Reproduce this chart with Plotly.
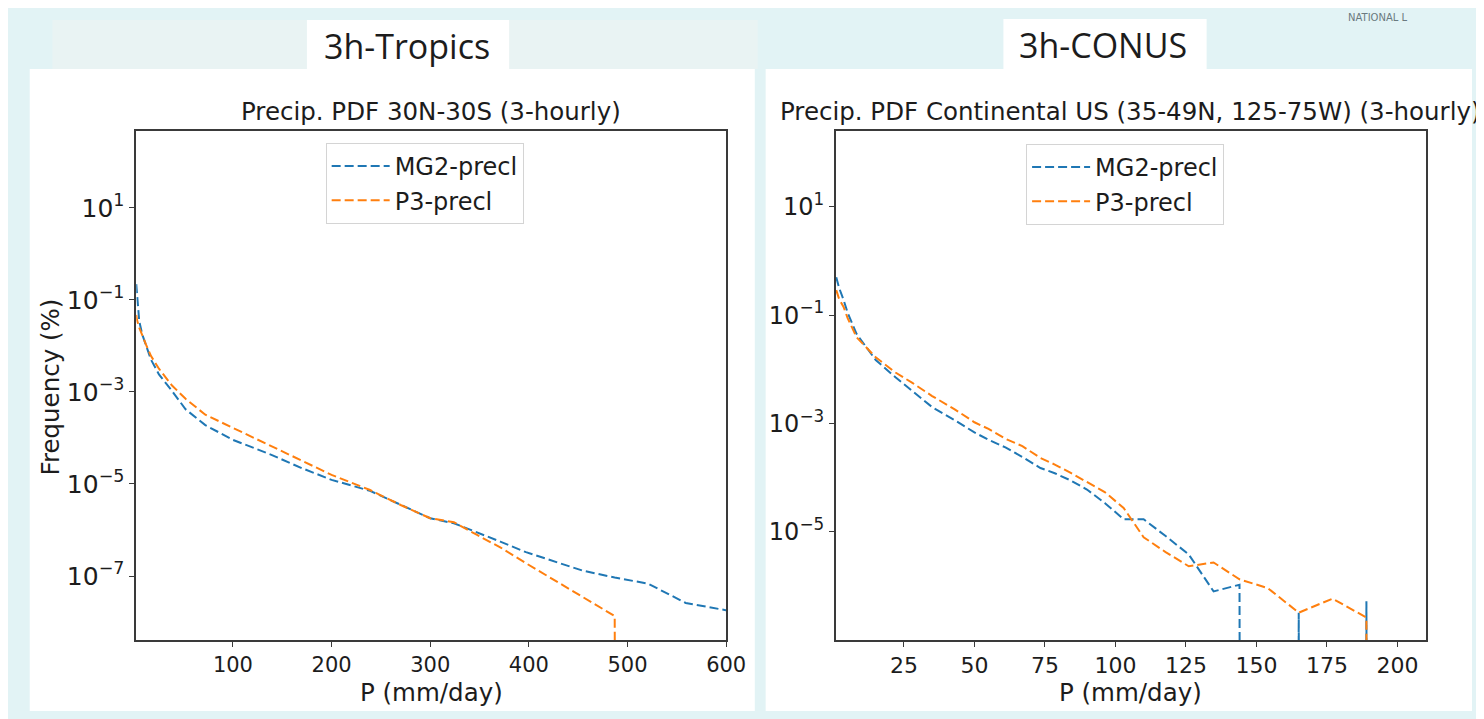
import plotly.graph_objects as go

W, H = 1484, 719

# ---------------- data ----------------
# Tropics 30N-30S, 3-hourly precipitation PDF
tropics_p = [2, 3, 5, 8, 12, 17, 25, 38, 52, 72, 100, 139, 170, 200, 239, 270,
             300, 324, 347, 371, 397, 425, 455, 487, 521, 559, 598, 640]
tropics_mg2 = [2.2e-1, 1.0e-1, 3.5e-2, 1.8e-2, 1.0e-2, 5.0e-3, 2.4e-3, 1.07e-3,
               4.2e-4, 1.9e-4, 9.1e-5, 4.3e-5, 2.2e-5, 1.23e-5, 7.1e-6, 3.5e-6,
               1.8e-6, 1.4e-6, 9.1e-7, 5.6e-7, 3.3e-7, 2.1e-7, 1.3e-7, 9.3e-8,
               6.8e-8, 2.6e-8, 1.8e-8, 1.26e-8]
tropics_p3 = [4.7e-2, 3.5e-2, 2.5e-2, 1.66e-2, 1.05e-2, 6.0e-3, 3.2e-3, 1.4e-3,
              7.1e-4, 3.2e-4, 1.66e-4, 6.8e-5, 3.2e-5, 1.58e-5, 7.4e-6, 3.5e-6,
              1.8e-6, 1.48e-6, 7.9e-7, 4.2e-7, 1.9e-7, 8.3e-8, 3.5e-8, 1.35e-8,
              0.0, 0.0, 0.0, 0.0]

# Continental US (35-49N, 125-75W), 3-hourly precipitation PDF
conus_p = [1, 2, 3.6, 5, 8.2, 12, 15, 22, 28, 35, 43, 50, 55, 61, 67, 73.4, 78.5,
           84, 89.9, 96.2, 102.9, 110, 117.8, 126, 134.8, 144, 154, 165, 177, 189, 202]
conus_mg2 = [5.0e-1, 3.2e-1, 1.9e-1, 1.12e-1, 4.5e-2, 2.4e-2, 1.48e-2, 7.1e-3,
             4.0e-3, 2.0e-3, 1.15e-3, 6.8e-4, 5.0e-4, 3.6e-4, 2.4e-4, 1.5e-4,
             1.2e-4, 8.9e-5, 6.0e-5, 3.4e-5, 1.7e-5, 1.7e-5, 8.3e-6, 3.8e-6,
             7.9e-7, 1.05e-6, 0.0, 3.2e-7, 0.0, 5.2e-7, 0.0]
conus_p3 = [2.9e-1, 2.0e-1, 1.41e-1, 8.9e-2, 3.9e-2, 2.4e-2, 1.66e-2, 8.7e-3,
            5.6e-3, 3.2e-3, 1.82e-3, 1.05e-3, 7.9e-4, 5.2e-4, 3.8e-4, 2.3e-4,
            1.74e-4, 1.23e-4, 8.3e-5, 5.4e-5, 2.75e-5, 7.9e-6, 4.2e-6, 2.3e-6,
            2.7e-6, 1.32e-6, 9.1e-7, 3.2e-7, 5.8e-7, 2.6e-7, 0.0]

x_ticks_tropics = [100, 200, 300, 400, 500, 600]
x_ticks_conus = [25, 50, 75, 100, 125, 150, 175, 200]
y_tickvals = [1e1, 1e-1, 1e-3, 1e-5, 1e-7]
y_ticktext = ["10<sup>1</sup>", "10<sup>\u22121</sup>", "10<sup>\u22123</sup>",
              "10<sup>\u22125</sup>", "10<sup>\u22127</sup>"]
series_names = ["MG2-precl", "P3-precl"]
series_colors = ["#1f77b4", "#ff7f0e"]


def px(x):
    return x / W


def py(y):
    return 1 - y / H


def log_floor(vals):
    # zero-frequency bins: clip to a tiny positive number like matplotlib's log axis
    return [v if v > 0 else 1e-300 for v in vals]


FONT = "DejaVu Sans"
TXT = "#1c1c1c"

fig = go.Figure()
for name, col, vals in zip(series_names, series_colors, [tropics_mg2, tropics_p3]):
    fig.add_trace(go.Scatter(x=tropics_p, y=log_floor(vals), mode="lines", name=name,
                             line=dict(color=col, width=2, dash="9px,4px"),
                             xaxis="x", yaxis="y", legend="legend", legendgroup="L" + name))
for name, col, vals in zip(series_names, series_colors, [conus_mg2, conus_p3]):
    fig.add_trace(go.Scatter(x=conus_p, y=log_floor(vals), mode="lines", name=name,
                             line=dict(color=col, width=2, dash="9px,4px"),
                             xaxis="x2", yaxis="y2", legend="legend2", legendgroup="R" + name))


def axis_style(size):
    return dict(showline=True, mirror=True, linecolor="#3a3a3a", linewidth=1.5,
                ticks="outside", ticklen=5, tickwidth=1.2, tickcolor="#3a3a3a",
                showgrid=False, zeroline=False,
                tickfont=dict(family=FONT, size=size, color=TXT))


shapes = [
    # slide decoration
    dict(type="rect", xref="paper", yref="paper", x0=px(45), x1=px(760), y0=py(61), y1=py(12),
         fillcolor="#e9f3f3", line=dict(width=0), layer="below"),
    # white picture panels
    dict(type="rect", xref="paper", yref="paper", x0=px(22), x1=px(757), y0=py(703), y1=py(61),
         fillcolor="white", line=dict(width=0), layer="below"),
    dict(type="rect", xref="paper", yref="paper", x0=px(768), x1=px(1484), y0=py(703), y1=py(61),
         fillcolor="white", line=dict(width=0), layer="below"),
    # heading boxes
    dict(type="rect", xref="paper", yref="paper", x0=px(303), x1=px(508), y0=py(61), y1=py(12),
         fillcolor="white", line=dict(width=0), layer="below"),
    dict(type="rect", xref="paper", yref="paper", x0=px(1009), x1=px(1215), y0=py(61), y1=py(11),
         fillcolor="white", line=dict(width=0), layer="below"),
]

annotations = [
    dict(text="NATIONAL L", x=px(1356), y=py(9), xref="paper", yref="paper", showarrow=False,
         xanchor="left", yanchor="middle", font=dict(family=FONT, size=10, color="#6a7a80")),
    dict(text="3h-Tropics", x=px(404), y=py(38), xref="paper", yref="paper", showarrow=False,
         xanchor="center", yanchor="middle", font=dict(family="Open Sans", size=34, color=TXT)),
    dict(text="3h-CONUS", x=px(1110), y=py(37), xref="paper", yref="paper", showarrow=False,
         xanchor="center", yanchor="middle", font=dict(family="Open Sans", size=34, color=TXT)),
    dict(text="Precip. PDF 30N-30S (3-hourly)", x=px(429), y=py(104), xref="paper", yref="paper",
         showarrow=False, xanchor="center", yanchor="middle",
         font=dict(family=FONT, size=24.5, color=TXT)),
    dict(text="Precip. PDF Continental US (35-49N, 125-75W) (3-hourly)", x=px(1138), y=py(104),
         xref="paper", yref="paper", showarrow=False, xanchor="center", yanchor="middle",
         font=dict(family=FONT, size=24.5, color=TXT)),
    dict(text="P (mm/day)", x=px(429), y=py(684), xref="paper", yref="paper", showarrow=False,
         xanchor="center", yanchor="middle", font=dict(family=FONT, size=24.5, color=TXT)),
    dict(text="P (mm/day)", x=px(1138), y=py(684), xref="paper", yref="paper", showarrow=False,
         xanchor="center", yanchor="middle", font=dict(family=FONT, size=24.5, color=TXT)),
    dict(text="Frequency (%)", x=px(43), y=py(379), xref="paper", yref="paper", showarrow=False,
         textangle=-90, xanchor="center", yanchor="middle",
         font=dict(family=FONT, size=24.5, color=TXT)),
]

legend_common = dict(bgcolor="white", bordercolor="#d4d4d4", borderwidth=1,
                     font=dict(family=FONT, size=24, color=TXT), xanchor="left", yanchor="top",
                     itemwidth=58, tracegroupgap=0)

fig.update_layout(
    width=W, height=H, margin=dict(l=0, r=0, t=0, b=0),
    paper_bgcolor="#e2f3f5", plot_bgcolor="white",
    xaxis=dict(domain=[px(130), px(728)], range=[2, 600], anchor="y",
               tickvals=x_ticks_tropics, **axis_style(21)),
    yaxis=dict(domain=[py(632), py(123)], type="log", range=[-8.39, 2.67], anchor="x",
               tickvals=y_tickvals, ticktext=y_ticktext, **axis_style(25)),
    xaxis2=dict(domain=[px(839), px(1437)], range=[0.8, 210], anchor="y2",
                tickvals=x_ticks_conus, **axis_style(22)),
    yaxis2=dict(domain=[py(632), py(123)], type="log", range=[-7.0, 2.4], anchor="x2",
                tickvals=y_tickvals[:4], ticktext=y_ticktext[:4], **axis_style(24)),
    legend=dict(x=px(322), y=py(135), **legend_common),
    legend2=dict(x=px(1032), y=py(136), **legend_common),
    shapes=shapes, annotations=annotations, showlegend=True,
)

fig.write_html("out.html")
